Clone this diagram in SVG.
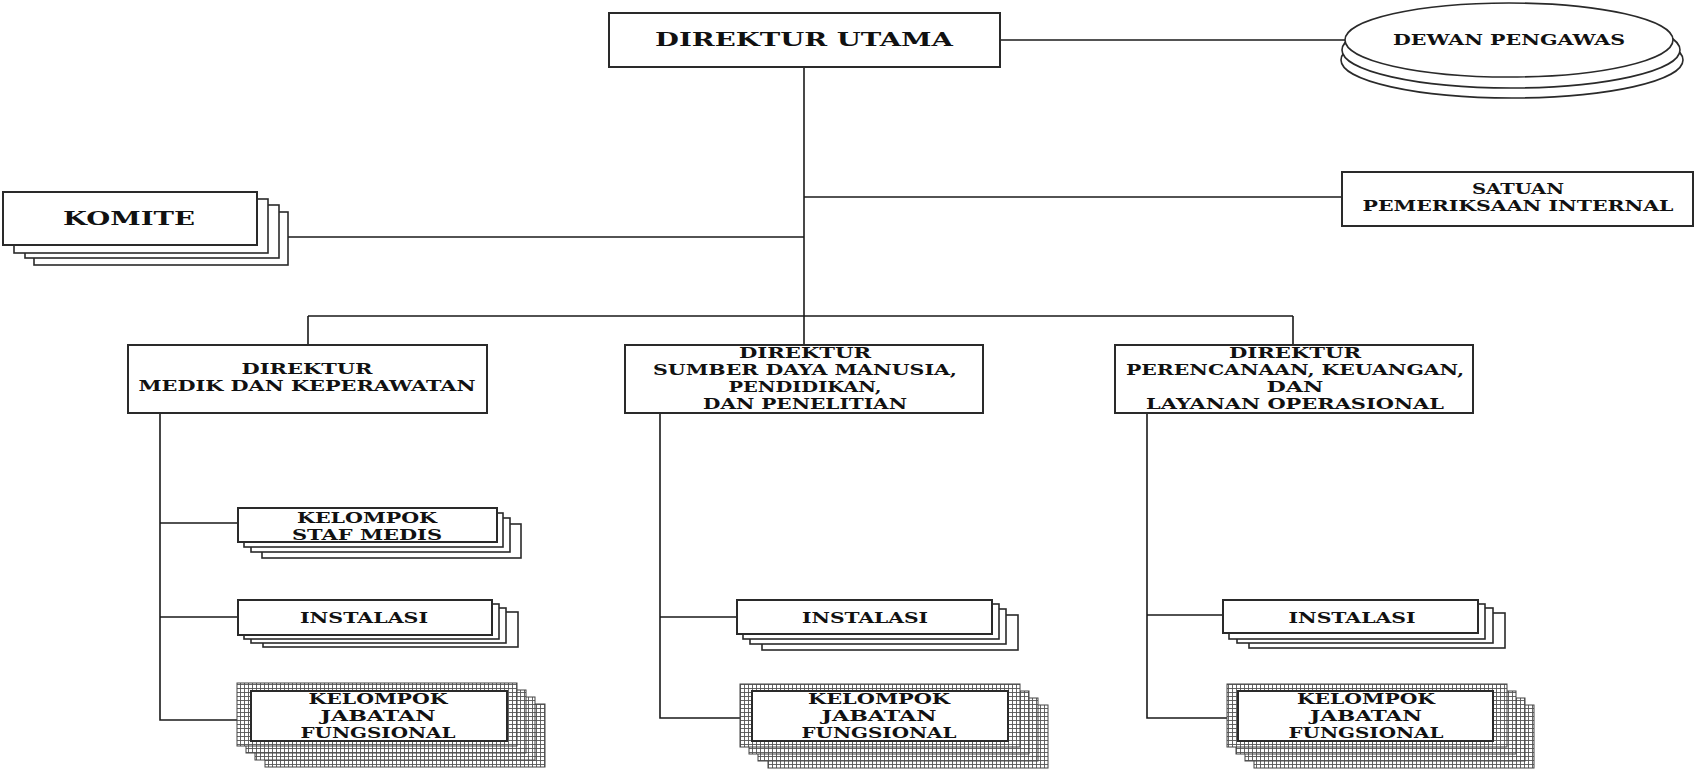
<svg xmlns="http://www.w3.org/2000/svg" width="1697" height="771" viewBox="0 0 1697 771">
<style>
.box{fill:#fff;stroke:#2a2a2a;stroke-width:2}
.lyr{fill:#fff;stroke:#2a2a2a;stroke-width:1.6}
.hat{fill:url(#grid);stroke:#444;stroke-width:1}
.ell{fill:#fff;stroke:#2a2a2a;stroke-width:1.6}
.ln{fill:none;stroke:#1a1a1a;stroke-width:1.6}
text{font-family:"DejaVu Serif","Liberation Serif",serif;font-weight:bold;fill:#111;text-anchor:middle}
.t14{font-size:14px}
.t15{font-size:15px}
</style>
<defs>
<pattern id="grid" width="4" height="4" patternUnits="userSpaceOnUse">
<rect width="4" height="4" fill="#fff"/>
<path d="M0.5 0V4M0 0.5H4" stroke="#555" stroke-width="0.9"/>
</pattern>
</defs>
<rect width="1697" height="771" fill="#fff"/>
<g id="connectors">
<path class="ln" d="M804 67V316"/>
<path class="ln" d="M1000 40H1345"/>
<path class="ln" d="M804 197H1342"/>
<path class="ln" d="M287 237H804"/>
<path class="ln" d="M308 316H1293M308 316V345M804 316V345M1293 316V345"/>
<path class="ln" d="M160 413V720H237M160 523H238M160 617H238"/>
<path class="ln" d="M660 413V718H740M660 617H737"/>
<path class="ln" d="M1147 413V718H1227M1147 615H1223"/>
</g>
<g id="direktur-utama">
<rect class="box" x="609" y="13" width="391" height="54"/>
<text x="804" y="46" style="font-size:19px" textLength="298" lengthAdjust="spacingAndGlyphs">DIREKTUR UTAMA</text>
</g>
<g id="dewan-pengawas">
<ellipse class="ell" cx="1512" cy="60" rx="171" ry="38"/>
<ellipse class="ell" cx="1511" cy="50" rx="169" ry="38"/>
<ellipse class="ell" cx="1509" cy="40" rx="164" ry="37"/>
<text class="t14" x="1509" y="45" textLength="232" lengthAdjust="spacingAndGlyphs">DEWAN PENGAWAS</text>
</g>
<g id="komite">
<rect class="lyr" x="34" y="212" width="254" height="53"/>
<rect class="lyr" x="25" y="205" width="254" height="53"/>
<rect class="lyr" x="14" y="199" width="254" height="54"/>
<rect class="box" x="3" y="192" width="254" height="53"/>
<text x="129" y="225" style="font-size:18px" textLength="132" lengthAdjust="spacingAndGlyphs">KOMITE</text>
</g>
<g id="satuan-pemeriksaan-internal">
<rect class="box" x="1342" y="172" width="351" height="54"/>
<text class="t14" x="1518" y="194" textLength="92" lengthAdjust="spacingAndGlyphs">SATUAN</text>
<text class="t14" x="1518" y="211" textLength="311" lengthAdjust="spacingAndGlyphs">PEMERIKSAAN INTERNAL</text>
</g>
<g id="direktur-medik">
<rect class="box" x="128" y="345" width="359" height="68"/>
<text class="t14" x="307" y="374" textLength="131" lengthAdjust="spacingAndGlyphs">DIREKTUR</text>
<text class="t14" x="307" y="391" textLength="337" lengthAdjust="spacingAndGlyphs">MEDIK DAN KEPERAWATAN</text>
</g>
<g id="direktur-sdm">
<rect class="box" x="625" y="345" width="358" height="68"/>
<text class="t14" x="805" y="358" textLength="132" lengthAdjust="spacingAndGlyphs">DIREKTUR</text>
<text class="t14" x="805" y="375" textLength="304" lengthAdjust="spacingAndGlyphs">SUMBER DAYA MANUSIA,</text>
<text class="t14" x="805" y="392" textLength="153" lengthAdjust="spacingAndGlyphs">PENDIDIKAN,</text>
<text class="t14" x="805" y="409" textLength="204" lengthAdjust="spacingAndGlyphs">DAN PENELITIAN</text>
</g>
<g id="direktur-perencanaan">
<rect class="box" x="1115" y="345" width="358" height="68"/>
<text class="t14" x="1295" y="358" textLength="132" lengthAdjust="spacingAndGlyphs">DIREKTUR</text>
<text class="t14" x="1295" y="375" textLength="338" lengthAdjust="spacingAndGlyphs">PERENCANAAN, KEUANGAN,</text>
<text class="t14" x="1295" y="392" textLength="57" lengthAdjust="spacingAndGlyphs">DAN</text>
<text class="t14" x="1295" y="409" textLength="298" lengthAdjust="spacingAndGlyphs">LAYANAN OPERASIONAL</text>
</g>
<g id="kelompok-staf-medis">
<rect class="lyr" x="262" y="524" width="259" height="34"/>
<rect class="lyr" x="251" y="518" width="259" height="34"/>
<rect class="lyr" x="244" y="513" width="259" height="34"/>
<rect class="box" x="238" y="508" width="259" height="34"/>
<text class="t15" x="367" y="523" textLength="140" lengthAdjust="spacingAndGlyphs">KELOMPOK</text>
<text class="t15" x="367" y="540" textLength="150" lengthAdjust="spacingAndGlyphs">STAF MEDIS</text>
</g>
<g id="instalasi-1">
<rect class="lyr" x="263" y="612" width="255" height="35"/>
<rect class="lyr" x="251" y="608" width="255" height="35"/>
<rect class="lyr" x="244" y="604" width="255" height="35"/>
<rect class="box" x="238" y="600" width="254" height="35"/>
<text class="t15" x="364" y="623" textLength="128" lengthAdjust="spacingAndGlyphs">INSTALASI</text>
</g>
<g id="instalasi-2">
<rect class="lyr" x="762" y="615" width="256" height="35"/>
<rect class="lyr" x="750" y="609" width="256" height="35"/>
<rect class="lyr" x="743" y="604" width="256" height="35"/>
<rect class="box" x="737" y="600" width="255" height="34"/>
<text class="t15" x="865" y="623" textLength="126" lengthAdjust="spacingAndGlyphs">INSTALASI</text>
</g>
<g id="instalasi-3">
<rect class="lyr" x="1249" y="613" width="256" height="35"/>
<rect class="lyr" x="1237" y="608" width="256" height="35"/>
<rect class="lyr" x="1229" y="604" width="256" height="35"/>
<rect class="box" x="1223" y="600" width="255" height="33"/>
<text class="t15" x="1352" y="623" textLength="127" lengthAdjust="spacingAndGlyphs">INSTALASI</text>
</g>
<g id="kjf-1">
<rect class="hat" x="265" y="704" width="280" height="63"/>
<rect class="hat" x="255" y="697" width="280" height="63"/>
<rect class="hat" x="246" y="690" width="280" height="63"/>
<rect class="hat" x="237" y="683" width="280" height="63"/>
<rect class="box" x="251" y="691" width="256" height="50"/>
<text class="t15" x="378" y="704" textLength="139" lengthAdjust="spacingAndGlyphs">KELOMPOK</text>
<text class="t15" x="378" y="721" textLength="115" lengthAdjust="spacingAndGlyphs">JABATAN</text>
<text class="t15" x="378" y="738" textLength="155" lengthAdjust="spacingAndGlyphs">FUNGSIONAL</text>
</g>
<g id="kjf-2">
<rect class="hat" x="768" y="705" width="280" height="63"/>
<rect class="hat" x="758" y="698" width="280" height="63"/>
<rect class="hat" x="749" y="691" width="280" height="63"/>
<rect class="hat" x="740" y="684" width="280" height="63"/>
<rect class="box" x="752" y="691" width="256" height="50"/>
<text class="t15" x="879" y="704" textLength="142" lengthAdjust="spacingAndGlyphs">KELOMPOK</text>
<text class="t15" x="879" y="721" textLength="115" lengthAdjust="spacingAndGlyphs">JABATAN</text>
<text class="t15" x="879" y="738" textLength="155" lengthAdjust="spacingAndGlyphs">FUNGSIONAL</text>
</g>
<g id="kjf-3">
<rect class="hat" x="1254" y="705" width="280" height="63"/>
<rect class="hat" x="1245" y="698" width="280" height="63"/>
<rect class="hat" x="1236" y="691" width="280" height="63"/>
<rect class="hat" x="1227" y="684" width="280" height="63"/>
<rect class="box" x="1238" y="691" width="255" height="50"/>
<text class="t15" x="1366" y="704" textLength="138" lengthAdjust="spacingAndGlyphs">KELOMPOK</text>
<text class="t15" x="1366" y="721" textLength="112" lengthAdjust="spacingAndGlyphs">JABATAN</text>
<text class="t15" x="1366" y="738" textLength="155" lengthAdjust="spacingAndGlyphs">FUNGSIONAL</text>
</g>
</svg>
